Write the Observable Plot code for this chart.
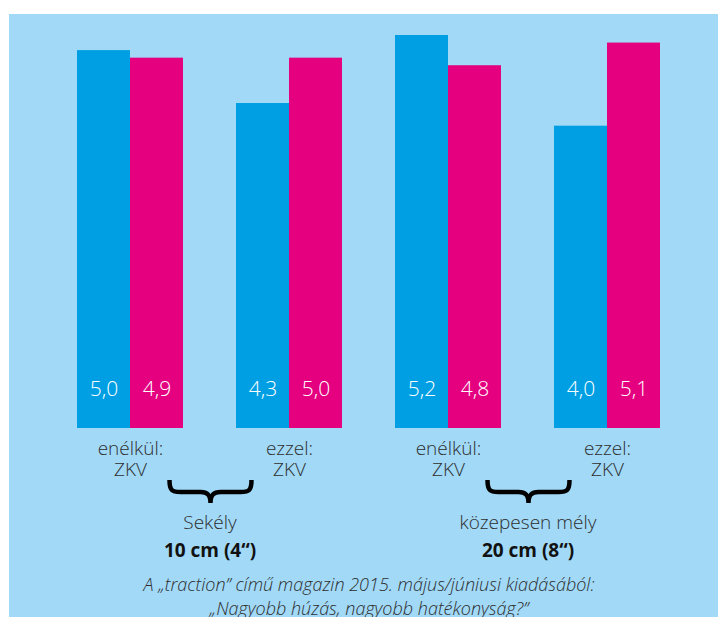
<!DOCTYPE html>
<html>
<head>
<meta charset="utf-8">
<script src="https://cdn.jsdelivr.net/npm/d3@7"></script>
<script src="https://cdn.jsdelivr.net/npm/@observablehq/plot@0.6"></script>
<style>
  html, body { margin: 0; padding: 0; background: #ffffff; overflow: hidden; }
  #chart { padding-left: 9px; padding-top: 14px; }
  #chart svg { display: block; background: #a1d9f7; }
</style>
</head>
<body>
<div id="chart"></div>
<script>
// ---- data ----
const groupLabels = ["enélkül:\nZKV", "ezzel:\nZKV", "enélkül:\nZKV", "ezzel:\nZKV"];
const seriesNames = ["kék", "magenta"];
// bar heights as drawn
const blueValues = [5.0, 4.3, 5.2, 4.0];
const pinkValues = [4.9, 4.9, 4.8, 5.1];
// printed value labels
const blueLabels = ["5,0", "4,3", "5,2", "4,0"];
const pinkLabels = ["4,9", "5,0", "4,8", "5,1"];
const depthNames = ["Sekély", "közepesen mély"];
const depthSizes = ["10 cm (4“)", "20 cm (8“)"];
const captionLines = [
  "A „traction” című magazin 2015. május/júniusi kiadásából:",
  "„Nagyobb húzás, nagyobb hatékonyság?”"
];

const colors = ["#009fe3", "#e4007f"];
const textColor = "#2e2e2e";
const font = "'Open Sans', 'Noto Sans', sans-serif";

// each bar occupies one slot; groups are 2 slots wide with a 1-slot gap
const bars = [];
groupLabels.forEach((g, gi) => {
  [[blueValues, blueLabels], [pinkValues, pinkLabels]].forEach(([vals, labs], si) => {
    bars.push({group: gi, series: seriesNames[si], color: colors[si], value: vals[gi], label: labs[gi], x1: gi * 3 + si, x2: gi * 3 + si + 1});
  });
});
const groups = groupLabels.map((label, gi) => ({label, x: gi * 3 + 1}));
const depths = depthNames.map((name, k) => ({name, size: depthSizes[k], x: ((2 * k) * 3 + 1 + (2 * k + 1) * 3 + 1) / 2}));

const plot = Plot.plot({
  width: 709,
  height: 603,
  marginLeft: 68,
  marginRight: 58,
  marginTop: 21,
  marginBottom: 189,
  style: {fontFamily: font, background: "#a1d9f7", overflow: "visible"},
  x: {type: "linear", domain: [0, groupLabels.length * 3 - 1], axis: null},
  y: {domain: [0, d3.max([...blueValues, ...pinkValues])], axis: null},
  marks: [
    Plot.rectY(bars, {x1: "x1", x2: "x2", y: "value", fill: "color", inset: 0}),
    Plot.text(bars, {x: d => (d.x1 + d.x2) / 2, y: 0, dy: -39, text: "label", fill: "white", fontSize: 21, fontWeight: 300, lineAnchor: "middle"}),
    Plot.text(groups, {x: "x", y: 0, dy: 11, text: "label", fill: textColor, fontSize: 19, fontWeight: 300, lineAnchor: "top", lineHeight: 1.12}),
    Plot.text(depths, {x: "x", y: 0, dy: 94, text: "name", fill: textColor, fontSize: 19, fontWeight: 300, lineAnchor: "middle"}),
    Plot.text(depths, {x: "x", y: 0, dy: 122, text: "size", fill: "#111", fontSize: 19, fontWeight: 700, lineAnchor: "middle"}),
    Plot.text([captionLines.join("\n")], {frameAnchor: "bottom", dy: 167, text: d => d, fill: textColor, fontSize: 18, fontStyle: "italic", fontWeight: 300, lineAnchor: "middle", lineHeight: 1.33})
  ]
});

document.getElementById("chart").appendChild(plot);

// curly braces under each depth pair, positioned with the plot's scales
const xs = plot.scale("x"), ys = plot.scale("y");
const svg = d3.select(plot);
depths.forEach(d => {
  const cx = xs.apply(d.x) + 1;
  const y0 = ys.apply(0) + 52;
  const w = 41;
  const p = d3.path();
  p.moveTo(cx - w, y0);
  p.bezierCurveTo(cx - w, y0 + 10, cx - w + 2, y0 + 12, cx - w + 11, y0 + 12);
  p.lineTo(cx - 10, y0 + 12);
  p.bezierCurveTo(cx - 3, y0 + 12, cx, y0 + 15, cx, y0 + 23);
  p.bezierCurveTo(cx, y0 + 15, cx + 3, y0 + 12, cx + 10, y0 + 12);
  p.lineTo(cx + w - 11, y0 + 12);
  p.bezierCurveTo(cx + w - 2, y0 + 12, cx + w, y0 + 10, cx + w, y0);
  svg.append("path").attr("d", p.toString()).attr("fill", "none").attr("stroke", "#000").attr("stroke-width", 4.5);
});
</script>
</body>
</html>
